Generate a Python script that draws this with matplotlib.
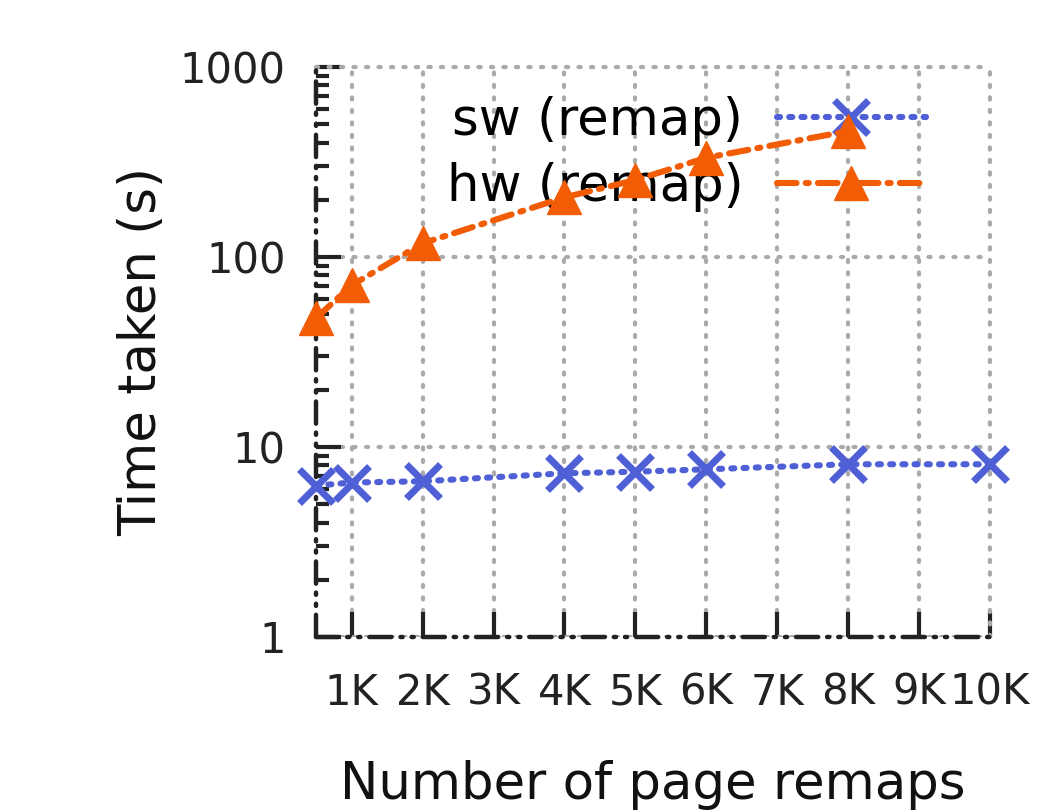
import matplotlib
matplotlib.use("Agg")
import matplotlib.pyplot as plt
from matplotlib.ticker import FixedLocator, NullFormatter, LogLocator

x_sw = [500, 1000, 2000, 4000, 5000, 6000, 8000, 10000]
y_sw = [6.26, 6.5, 6.6, 7.27, 7.41, 7.63, 8.11, 8.11]
x_hw = [500, 1000, 2000, 4000, 5000, 6000, 8000]
y_hw = [47.7, 71, 118, 206, 254, 333, 460]
xticks = [1000, 2000, 3000, 4000, 5000, 6000, 7000, 8000, 9000, 10000]
xticklabels = ["1K", "2K", "3K", "4K", "5K", "6K", "7K", "8K", "9K", "10K"]
yticks = [1, 10, 100, 1000]
yticklabels = ["1", "10", "100", "1000"]

plt.rcParams['font.family'] = ['DejaVu Sans']
fig = plt.figure(figsize=(10.47, 8.10), dpi=100)
ax = fig.add_axes([0.302, 0.2136, 0.6436, 0.7037])
ax.set_xscale('linear')
ax.set_yscale('log')
ax.set_xlim(500, 10000)
ax.set_ylim(1, 1000)

blue = '#4f5fd6'
orange = '#f25c05'
ax.plot(x_sw, y_sw, color=blue, linestyle=(0, (0.5, 1.5)), linewidth=4.4,
        dash_capstyle='round', marker='x', markersize=25, markeredgewidth=5,
        clip_on=False, zorder=5, label='sw (remap)')
ax.plot(x_hw, y_hw, color=orange, linestyle=(0, (3.2, 1.5, 0.5, 1.5)), linewidth=4.4,
        dash_capstyle='round', marker='^', markersize=24, markeredgewidth=1,
        clip_on=False, zorder=6, label='hw (remap)')

ax.set_xticks(xticks)
ax.set_xticklabels(xticklabels)
ax.yaxis.set_major_locator(FixedLocator(yticks))
ax.set_yticklabels(yticklabels)
ax.yaxis.set_minor_locator(LogLocator(base=10, subs=range(2, 10)))
ax.yaxis.set_minor_formatter(NullFormatter())

ax.tick_params(axis='both', which='major', direction='in', length=18, width=3,
               colors='#222222', labelsize=30, labelcolor='#222222')
ax.tick_params(axis='y', which='minor', direction='in', length=9, width=3, colors='#222222')
ax.tick_params(axis='x', pad=25)
ax.tick_params(axis='y', pad=22)

for s in ['top', 'right']:
    ax.spines[s].set_visible(False)
for s in ['left', 'bottom']:
    ax.spines[s].set_linewidth(3.2)
    ax.spines[s].set_color('#222222')
    ax.spines[s].set_linestyle((0, (5, 2, 0.5, 2, 0.5, 2)))
    ax.spines[s].set_capstyle('round')

ax.grid(True, which='major', color='#aaaaaa', linestyle=(0, (0.5, 2.5)), linewidth=3,
        dash_capstyle='round')
ax.axhline(1000, color='#aaaaaa', linestyle=(0, (0.5, 2.5)), linewidth=3, dash_capstyle='round', clip_on=False)
ax.axvline(10000, color='#aaaaaa', linestyle=(0, (0.5, 2.5)), linewidth=3, dash_capstyle='round', clip_on=False)

ax.set_ylabel('Time taken (s)', fontsize=37, color='#111111', labelpad=9)
ax.set_xlabel('Number of page remaps', fontsize=37, color='#111111', labelpad=33)

leg = ax.legend(loc='upper right', bbox_to_anchor=(0.935, 0.985), frameon=False, markerfirst=False,
                fontsize=37, handlelength=2.9, handletextpad=0.65, labelspacing=0.3,
                borderaxespad=0)

fig.savefig('out.png', dpi=100, facecolor='white')
